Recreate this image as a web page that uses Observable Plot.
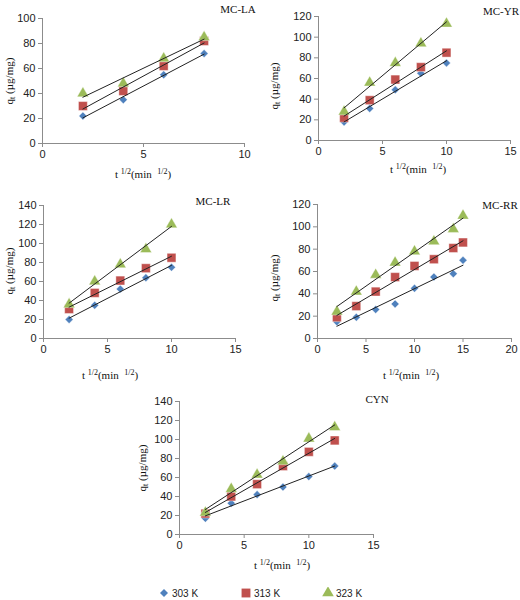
<!DOCTYPE html>
<html><head><meta charset="utf-8">
<script src="https://cdn.jsdelivr.net/npm/d3@7"></script>
<script src="https://cdn.jsdelivr.net/npm/@observablehq/plot@0.6"></script>
<style>
body{margin:0;background:#fff;}
#wrap{position:relative;width:520px;height:600px;overflow:hidden;}
.t{position:absolute;font-family:"Liberation Serif","Times New Roman",serif;font-size:11px;color:#111;white-space:nowrap;line-height:1;}
.t sup{font-size:8px;vertical-align:4px;}
.t sub{font-size:8px;vertical-align:-2px;}
.yl{transform:translate(-50%,-50%) rotate(-90deg);}
.c{transform:translate(-50%,-50%);}
.leg{position:absolute;font-family:"Liberation Sans",Arial,sans-serif;font-size:10px;color:#222;display:flex;align-items:center;gap:2px;}
</style></head>
<body><div id="wrap"></div>
<script>
const series = ["303 K", "313 K", "323 K"];
const colors = ["#4F81BD", "#C0504D", "#9BBB59"];
const symbols = ["diamond2", "square", "triangle"];
const radii = [3.6, 5, 4.3];

// MC-LA
const laX = [2, 4, 6, 8];
const la303 = [22, 35, 55, 72];
const la313 = [30, 42, 62, 82];
const la323 = [40, 48, 68, 85];
// MC-YR
const yrX = [2, 4, 6, 8, 10];
const yr303 = [18, 31, 49, 65, 75];
const yr313 = [22, 39, 59, 71, 85];
const yr323 = [28, 56, 75, 94, 113];
// MC-LR
const lrX = [2, 4, 6, 8, 10];
const lr303 = [20, 35, 52, 64, 75];
const lr313 = [31, 48, 61, 74, 85];
const lr323 = [36, 60, 78, 94, 120];
// MC-RR
const rrX = [2, 4, 6, 8, 10, 12, 14, 15];
const rr303 = [15, 19, 26, 31, 45, 55, 58, 70];
const rr313 = [19, 29, 42, 55, 65, 71, 81, 86];
const rr323 = [24, 42, 57, 68, 78, 87, 98, 110];
// CYN
const cynX = [2, 4, 6, 8, 10, 12];
const cyn303 = [17, 33, 42, 50, 61, 72];
const cyn313 = [22, 40, 53, 72, 87, 99];
const cyn323 = [23, 48, 63, 77, 101, 113];

const wrap = document.getElementById("wrap");

function rowsOf(xs, ys3) {
  const out = [];
  ys3.forEach((ys, i) => ys.forEach((v, j) => out.push({x: xs[j], y: v, k: series[i]})));
  return out;
}

function addText(html, x, y, cls) {
  const d = document.createElement("div");
  d.className = "t " + cls;
  d.innerHTML = html;
  d.style.left = x + "px";
  d.style.top = y + "px";
  wrap.appendChild(d);
}

function panel(cfg) {
  const m = {l: 34, r: 8, t: 8, b: 24};
  const rows = rowsOf(cfg.xs, cfg.ys);
  const xt = d3.range(0, cfg.xmax + 0.001, 5);
  const yt = d3.range(0, cfg.ymax + 0.001, 20);
  const marks = [
    Plot.ruleY([0], {stroke: "#8c8c8c"}),
    Plot.ruleX([0], {stroke: "#8c8c8c"}),
    Plot.axisX({ticks: xt, tickSize: 4, tickPadding: 3, stroke: "#8c8c8c", fill: "#222", label: null, tickFormat: d => d}),
    Plot.axisY({ticks: yt, tickSize: 4, tickPadding: 3, stroke: "#8c8c8c", fill: "#222", label: null, tickFormat: d => d})
  ];
  series.forEach((s, i) => {
    marks.push(Plot.dot(rows.filter(d => d.k === s), {x: "x", y: "y", symbol: () => symbols[i], fill: colors[i], r: radii[i], stroke: "#fff", strokeWidth: 0.4}));
  });
  marks.push(Plot.linearRegressionY(rows, {x: "x", y: "y", z: "k", stroke: "#222", strokeWidth: 1, ci: 0}));
  const fig = Plot.plot({
    width: cfg.R - cfg.L + m.l + m.r,
    height: cfg.B - cfg.T + m.t + m.b,
    marginLeft: m.l, marginRight: m.r, marginTop: m.t, marginBottom: m.b,
    x: {domain: [0, cfg.xmax], axis: null},
    y: {domain: [0, cfg.ymax], axis: null},
    symbol: {type: "identity"},
    style: {fontSize: "11px", fontFamily: "'Liberation Sans', Arial, sans-serif", background: "transparent", overflow: "visible"},
    marks
  });
  fig.style.position = "absolute";
  fig.style.left = (cfg.L - m.l) + "px";
  fig.style.top = (cfg.T - m.t) + "px";
  wrap.appendChild(fig);
  addText(cfg.title, cfg.titleX, cfg.titleY, "c");
  addText("t <sup>1/2</sup>(min &nbsp;<sup>1/2</sup>)", cfg.xlX, cfg.xlY, "c");
  addText("q<sub>t</sub> (µg/mg)", cfg.ylX, cfg.ylY, "yl");
}

panel({title: "MC-LA", xs: laX, ys: [la303, la313, la323], xmax: 10, ymax: 100,
  L: 42, R: 244, T: 18, B: 143, titleX: 238, titleY: 9, xlX: 143, xlY: 174, ylX: 10, ylY: 81});
panel({title: "MC-YR", xs: yrX, ys: [yr303, yr313, yr323], xmax: 15, ymax: 120,
  L: 318, R: 510, T: 16, B: 140, titleX: 501, titleY: 11, xlX: 418, xlY: 169, ylX: 275, ylY: 86});
panel({title: "MC-LR", xs: lrX, ys: [lr303, lr313, lr323], xmax: 15, ymax: 140,
  L: 43, R: 235, T: 205, B: 338, titleX: 213, titleY: 201, xlX: 110, xlY: 375, ylX: 10, ylY: 271});
panel({title: "MC-RR", xs: rrX, ys: [rr303, rr313, rr323], xmax: 20, ymax: 120,
  L: 317, R: 511, T: 204, B: 338, titleX: 500, titleY: 205, xlX: 411, xlY: 375, ylX: 275, ylY: 278});
panel({title: "CYN", xs: cynX, ys: [cyn303, cyn313, cyn323], xmax: 15, ymax: 140,
  L: 179, R: 373, T: 401, B: 534, titleX: 377, titleY: 399, xlX: 282, xlY: 565, ylX: 143, ylY: 468});

// legend
const legX = [158, 240, 322];
series.forEach((s, i) => {
  const d = document.createElement("div");
  d.className = "leg";
  d.style.left = legX[i] + "px";
  d.style.top = "587px";
  const sym = d3.symbol(d3["symbol" + ({diamond2: "Diamond2", square: "Square", triangle: "Triangle"})[symbols[i]]], Math.PI * radii[i] * radii[i])();
  d.innerHTML = `<svg width="12" height="12" viewBox="-6 -6 12 12"><path d="${sym}" fill="${colors[i]}"/></svg><span>${s}</span>`;
  wrap.appendChild(d);
});
</script></body></html>
